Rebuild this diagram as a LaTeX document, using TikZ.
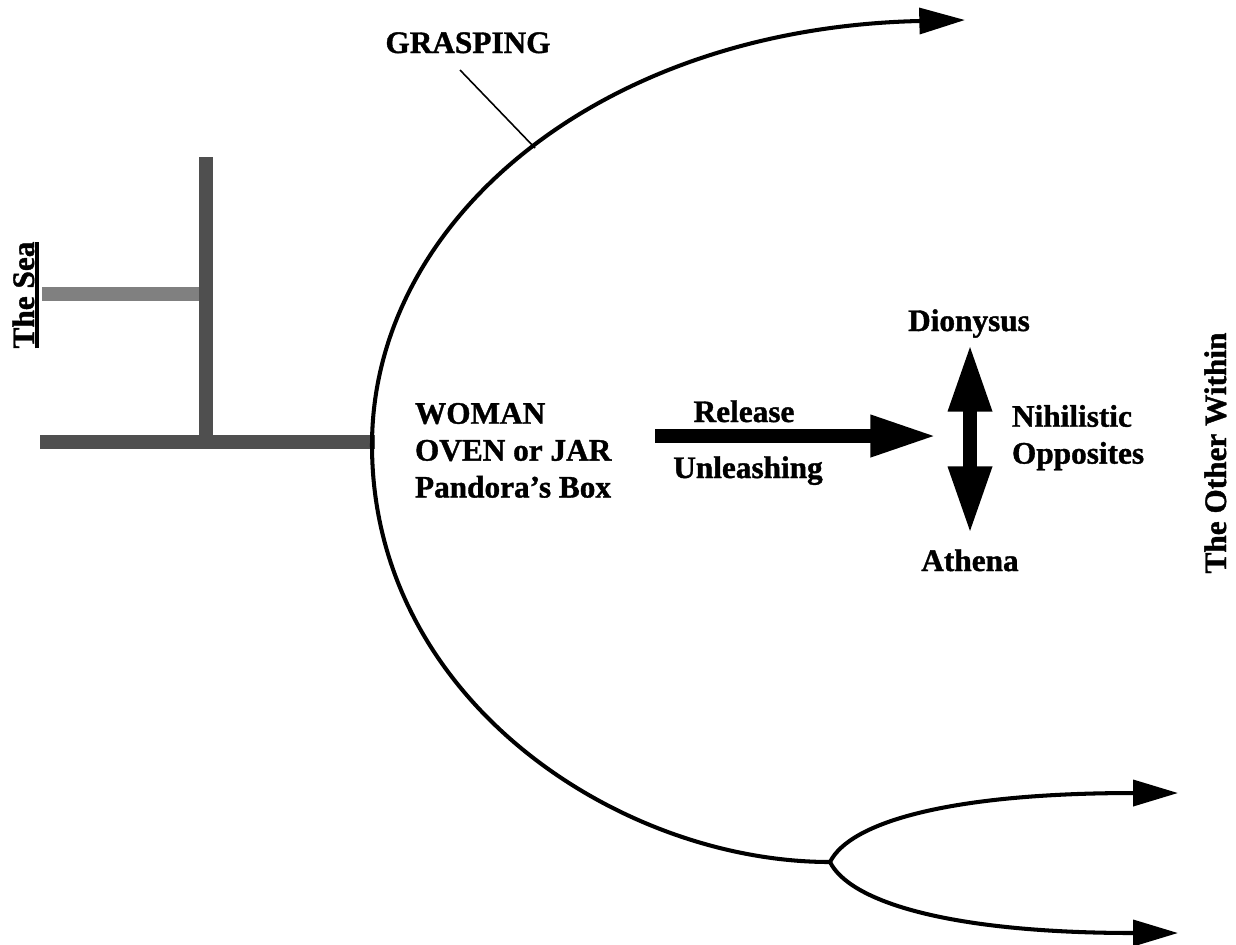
\documentclass[tikz,border=0pt]{standalone}
\usepackage{fontspec}
\setmainfont{Liberation Serif}[BoldFeatures={FakeBold=1.2}]
\usetikzlibrary{arrows.meta}
\newcommand\thickul[1]{\setbox0\hbox{#1}\rlap{\rule[-2.8pt]{\wd0}{2.2pt}}\box0}
\begin{document}
\begin{tikzpicture}[x=0.02cm,y=-0.02cm,
  lbl/.style={font=\fontsize{17.8pt}{21pt}\selectfont\bfseries, inner sep=0pt, outer sep=0pt},
  curve/.style={line width=2.3pt},
  curvetip/.style={-{Triangle[length=26pt,width=14.7pt]}},
  bar/.style={line width=7.9pt, line cap=butt},
  fat/.style={line width=7.9pt, -{Triangle[length=38pt,width=22pt]}},
  fatboth/.style={line width=8.5pt, {Triangle[length=39pt,width=22.7pt]}-{Triangle[length=39pt,width=22.7pt]}},
  leader/.style={line width=0.9pt}]
\useasboundingbox (0,0) rectangle (1236,944);

% left structure
\coordinate (vtop) at (206,157);
\coordinate (vbot) at (206,442);
\coordinate (hleft) at (40,442);
\coordinate (hright) at (375,442);
\coordinate (lleft) at (42,294);
\coordinate (lright) at (199,294);
\draw[bar, color=black!69] (vtop) -- (vbot);
\draw[bar, color=black!69] (hleft) -- (hright);
\draw[bar, color=black!50] (lleft) -- (lright);

% big curve
\coordinate (fork) at (830,862);
\coordinate (topend) at (965,20);
\coordinate (graspPt) at (535,148);
\coordinate (graspLn) at (460,70);
\draw[curve, curvetip] (fork) .. controls (620,862) and (372,700) .. (372,445)
  .. controls (372,220) and (600,28) .. (topend);

% fork branches
\coordinate (upend) at (1178,793);
\coordinate (lowend) at (1178,933);
\draw[curve, -{Triangle[length=25.5pt,width=14.7pt]}] (fork) .. controls (850,822) and (950,793) .. (upend);
\draw[curve, -{Triangle[length=25.5pt,width=14.7pt]}] (fork) .. controls (850,902) and (950,933) .. (lowend);

% labels
\node[lbl, anchor=base] (grasping) at (468,53) {GRASPING};
\draw[leader] (graspLn) -- (graspPt);

\node[lbl, anchor=north west, align=left] (woman) at (415,403) {WOMAN\\OVEN or JAR\\Pandora’s Box};

\node[lbl, anchor=base] (release) at (744,422) {Release};
\node[lbl, anchor=base] (unleash) at (748,478) {Unleashing};
\coordinate (relS) at (655,436);
\coordinate (relE) at (937,436);
\draw[fat] (relS) -- (relE);

\node[lbl, anchor=base] (dionysus) at (969,331) {Dionysus};
\node[lbl, anchor=base] (athena) at (970,571) {Athena};
\coordinate (dtip) at (970,343);
\coordinate (atip) at (970,535);
\draw[fatboth] (atip) -- (dtip);

\node[lbl, anchor=north west, align=left] (nihil) at (1012,405) {Nihilistic\\Opposites};

\node[lbl, rotate=90, anchor=base] (sea) at (34,295) {\thickul{The Sea}};
\node[lbl, rotate=90, anchor=base] (other) at (1226,453) {The Other Within};
\end{tikzpicture}
\end{document}
